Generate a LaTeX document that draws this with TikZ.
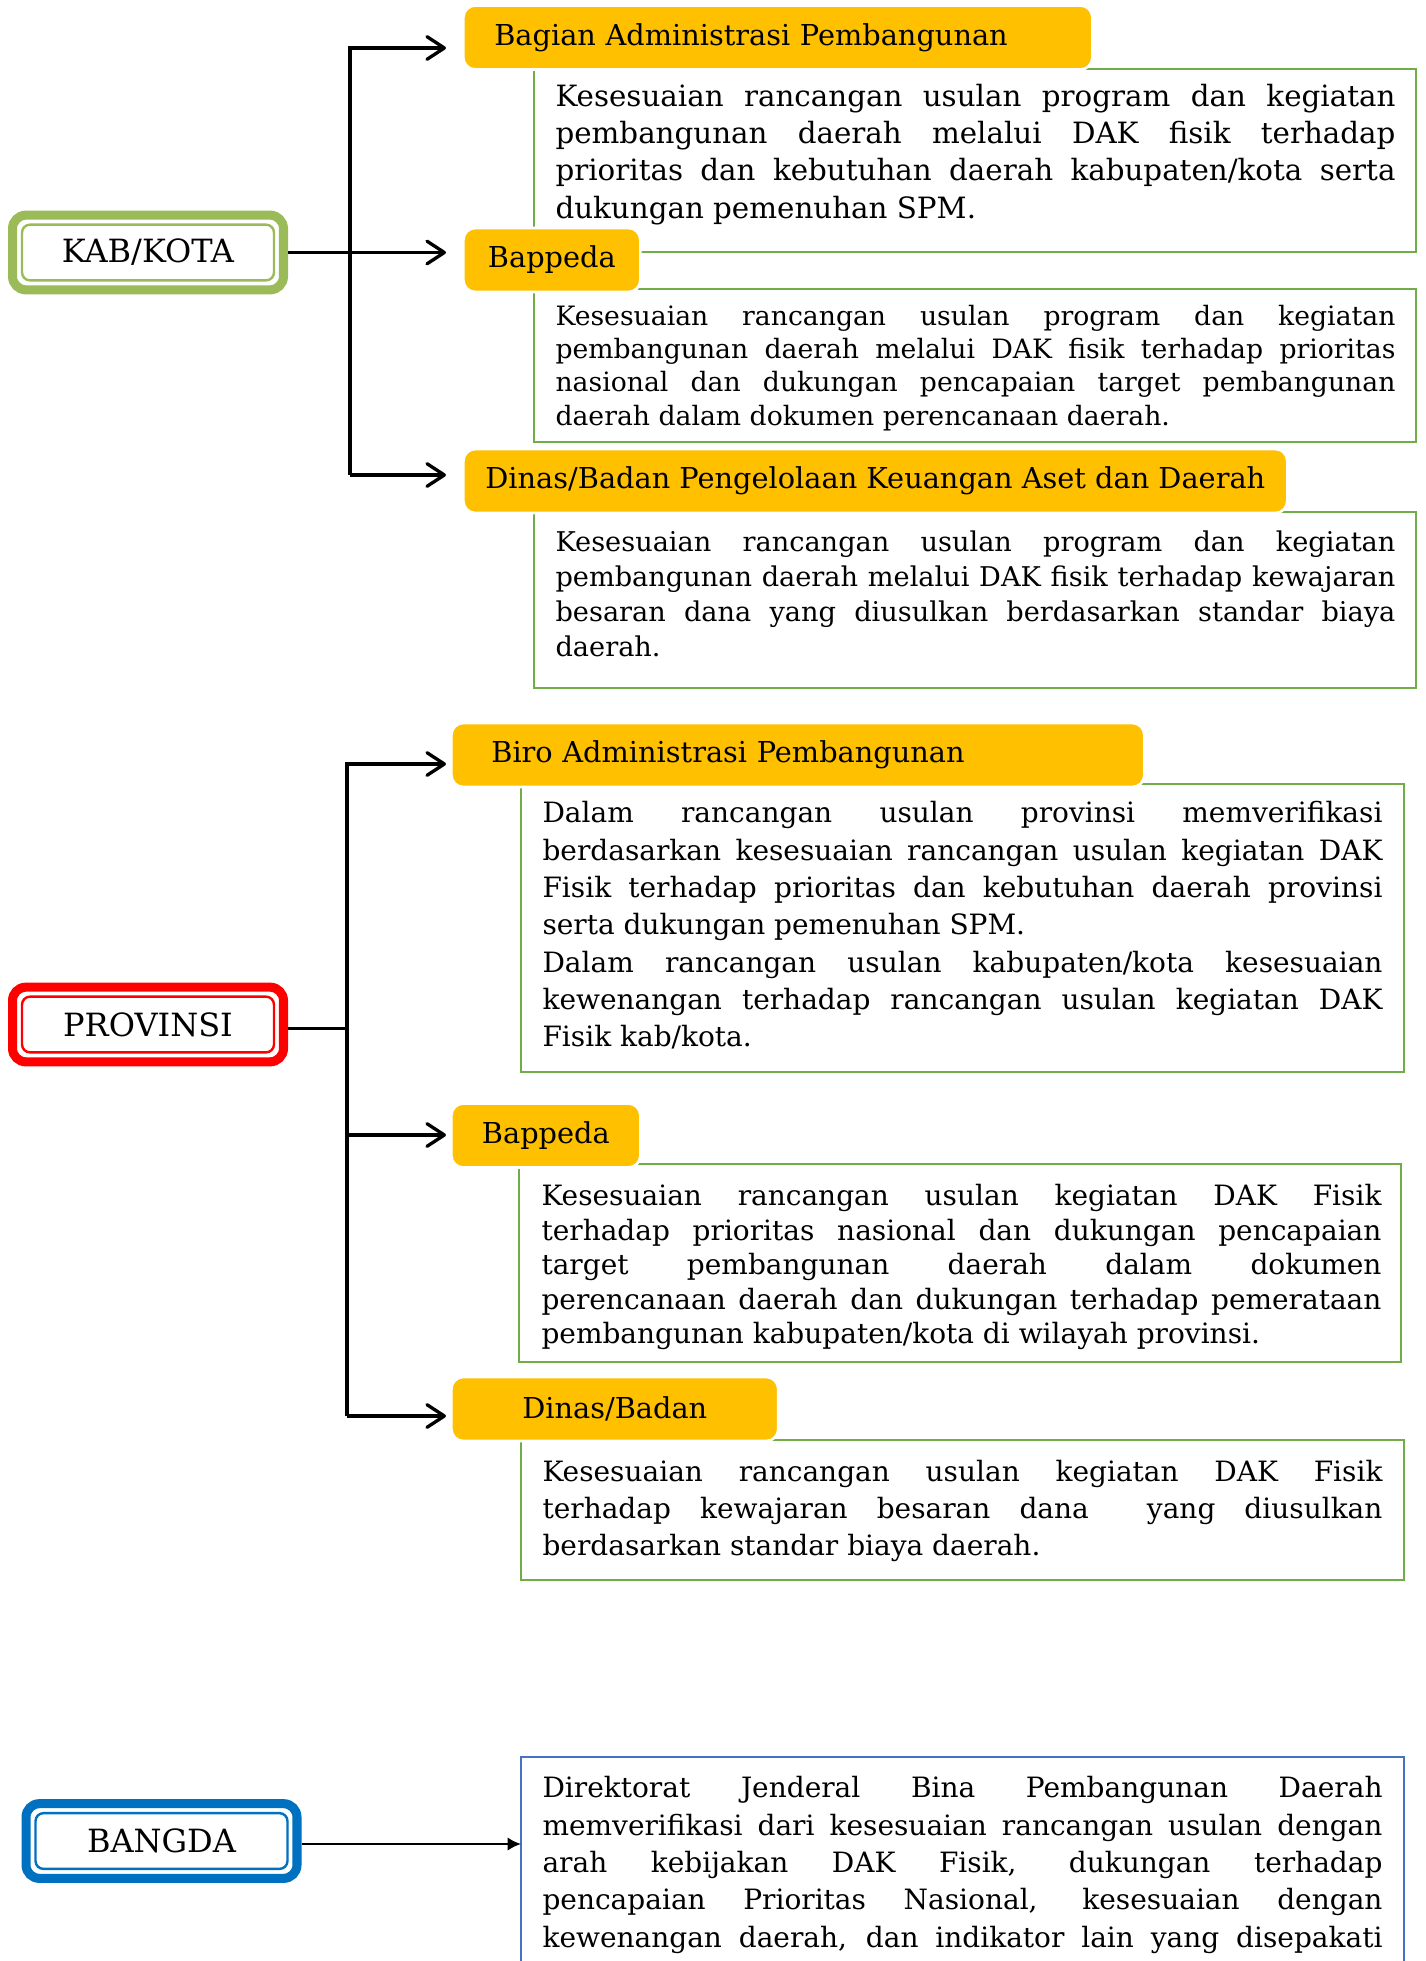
\documentclass[tikz,border=0pt]{standalone}
\usepackage{fontspec}
\setmainfont{DejaVu Serif}
\usetikzlibrary{arrows.meta,calc}
\definecolor{kabgreen}{HTML}{9BBB59}
\definecolor{boxgreen}{HTML}{70AD47}
\definecolor{headorange}{HTML}{FFC000}
\definecolor{provred}{HTML}{FF0000}
\definecolor{bangdablue}{HTML}{0070C0}
\definecolor{descblue}{HTML}{4472C4}
\tolerance=9999
\hyphenpenalty=10000
\tikzset{
    unitbox/.style={draw=#1, line width=3.4pt, rounded corners=5pt, fill=white,
        minimum width=101.6pt, minimum height=28pt, font=\fontsize{12}{14}\selectfont},
    unitin/.style={draw=#1, line width=0.9pt, rounded corners=3pt,
        minimum width=94.5pt, minimum height=20.9pt, inner sep=0pt},
    head/.style={fill=headorange, draw=white, line width=1pt, rounded corners=4.5pt,
        minimum height=24pt, anchor=west, font=\fontsize{10.8}{13}\selectfont},
    descbox/.style={draw=#1, line width=1pt},
    desc/.style={anchor=north west, inner sep=0pt, text width=315pt, align=justify},
    branch/.style={line width=1.25pt},
    arr/.style={branch, -{Straight Barb[length=6.5pt,width=8.5pt,round]}, shorten >=#1}
}
\begin{document}
\begin{tikzpicture}[x=0.375pt, y=-0.375pt]
    \path[use as bounding box, fill=white] (0,0) rectangle (1426,1961);

    % KAB/KOTA
    \node[unitbox=kabgreen] (kab) at (148,252.5) {KAB/KOTA};
    \node[unitin=kabgreen] (kabin) at (kab.center) {};

    \draw[descbox=boxgreen] (534,69) rectangle (1416,252);
    \draw[descbox=boxgreen] (534,289) rectangle (1416,442);
    \draw[descbox=boxgreen] (534,512) rectangle (1416,688);

    \node[head, text width=212.7pt, align=left, inner xsep=11.6pt] (kh1) at (462,37.5)
        {Bagian Administrasi Pembangunan};
    \node[head, minimum width=66.4pt] (kh2) at (462,260) {Bappeda};
    \node[head, minimum width=309pt] (kh3) at (462,481)
        {Dinas/Badan Pengelolaan Keuangan Aset dan Daerah};

    \node[desc, font=\fontsize{11}{13.9}\selectfont] (kdesc1) at (555,84)
        {Kesesuaian rancangan usulan program dan kegiatan\linebreak
         pembangunan daerah melalui DAK fisik terhadap\linebreak
         prioritas dan kebutuhan daerah kabupaten/kota serta\linebreak
         dukungan pemenuhan SPM.};
    \node[desc, font=\fontsize{10}{12.4}\selectfont] (kdesc2) at (555,305)
        {Kesesuaian rancangan usulan program dan kegiatan\linebreak
         pembangunan daerah melalui DAK fisik terhadap prioritas\linebreak
         nasional dan dukungan pencapaian target pembangunan\linebreak
         daerah dalam dokumen perencanaan daerah.};
    \node[desc, font=\fontsize{10.2}{13.1}\selectfont] (kdesc3) at (555,530)
        {Kesesuaian rancangan usulan program dan kegiatan\linebreak
         pembangunan daerah melalui DAK fisik terhadap kewajaran\linebreak
         besaran dana yang diusulkan berdasarkan standar biaya\linebreak
         daerah.};

    \coordinate (ktop) at (350,48);
    \coordinate (kbot) at (350,475);
    \draw[arr=6pt] (kbot) -- (ktop) -- (ktop -| kh1.west);
    \draw[arr=6pt] (kab.east) -- (kab.east -| kh2.west);
    \draw[arr=6pt] (kbot) -- (kbot -| kh3.west);

    % PROVINSI
    \node[unitbox=provred] (prov) at (148,1024.5) {PROVINSI};
    \node[unitin=provred] (provin) at (prov.center) {};

    \draw[descbox=boxgreen] (521,784) rectangle (1404,1072);
    \draw[descbox=boxgreen] (519,1164) rectangle (1401,1362);
    \draw[descbox=boxgreen] (521,1440) rectangle (1404,1580);

    \node[head, text width=229.9pt, align=left, inner xsep=15pt] (ph1) at (450,755)
        {Biro Administrasi Pembangunan};
    \node[head, minimum width=70.9pt] (ph2) at (450,1135.5) {Bappeda};
    \node[head, minimum width=122.6pt] (ph3) at (450,1409) {Dinas/Badan};

    \node[desc, font=\fontsize{10.5}{14}\selectfont] (pdesc1) at (542,801)
        {Dalam rancangan usulan provinsi memverifikasi\linebreak
         berdasarkan kesesuaian rancangan usulan kegiatan DAK\linebreak
         Fisik terhadap prioritas dan kebutuhan daerah provinsi\linebreak
         serta dukungan pemenuhan SPM.\\
         Dalam rancangan usulan kabupaten/kota kesesuaian\linebreak
         kewenangan terhadap rancangan usulan kegiatan DAK\linebreak
         Fisik kab/kota.};
    \node[desc, font=\fontsize{10.5}{12.9}\selectfont] (pdesc2) at (541,1184)
        {Kesesuaian rancangan usulan kegiatan DAK Fisik\linebreak
         terhadap prioritas nasional dan dukungan pencapaian\linebreak
         target pembangunan daerah dalam dokumen\linebreak
         perencanaan daerah dan dukungan terhadap pemerataan\linebreak
         pembangunan kabupaten/kota di wilayah provinsi.};
    \node[desc, font=\fontsize{10.5}{13.9}\selectfont] (pdesc3) at (542,1460)
        {Kesesuaian rancangan usulan kegiatan DAK Fisik\linebreak
         terhadap kewajaran besaran dana \ yang diusulkan\linebreak
         berdasarkan standar biaya daerah.};

    \coordinate (ptop) at (347,764);
    \coordinate (pmid) at (347,1135);
    \coordinate (pbot) at (347,1416);
    \draw[branch] ($(prov.east)+(0,4)$) -- ($(prov.east -| ptop)+(0,4)$);
    \draw[arr=1.5pt] (pbot) -- (ptop) -- (ptop -| ph1.west);
    \draw[arr=1.5pt] (pmid) -- (pmid -| ph2.west);
    \draw[arr=1.5pt] (pbot) -- (pbot -| ph3.west);

    % BANGDA
    \node[unitbox=bangdablue] (bangda) at (161.5,1841) {BANGDA};
    \node[unitin=bangdablue] (bangdain) at (bangda.center) {};

    \coordinate (bin) at (521,1757);
    \draw[descbox=descblue] (bin) rectangle (1404,1990);
    \node[desc, font=\fontsize{10.5}{14}\selectfont] (bdesc) at (542,1776)
        {Direktorat Jenderal Bina Pembangunan Daerah\linebreak
         memverifikasi dari kesesuaian rancangan usulan dengan\linebreak
         arah kebijakan DAK Fisik, dukungan terhadap\linebreak
         pencapaian Prioritas Nasional, kesesuaian dengan\linebreak
         kewenangan daerah, dan indikator lain yang disepakati\linebreak\null};

    \draw[line width=0.8pt, -{Latex[length=5pt,width=5pt]}] ($(bangda.east)+(0,3)$) -- ($(bangda.east -| bin)+(0,3)$);
\end{tikzpicture}
\end{document}
